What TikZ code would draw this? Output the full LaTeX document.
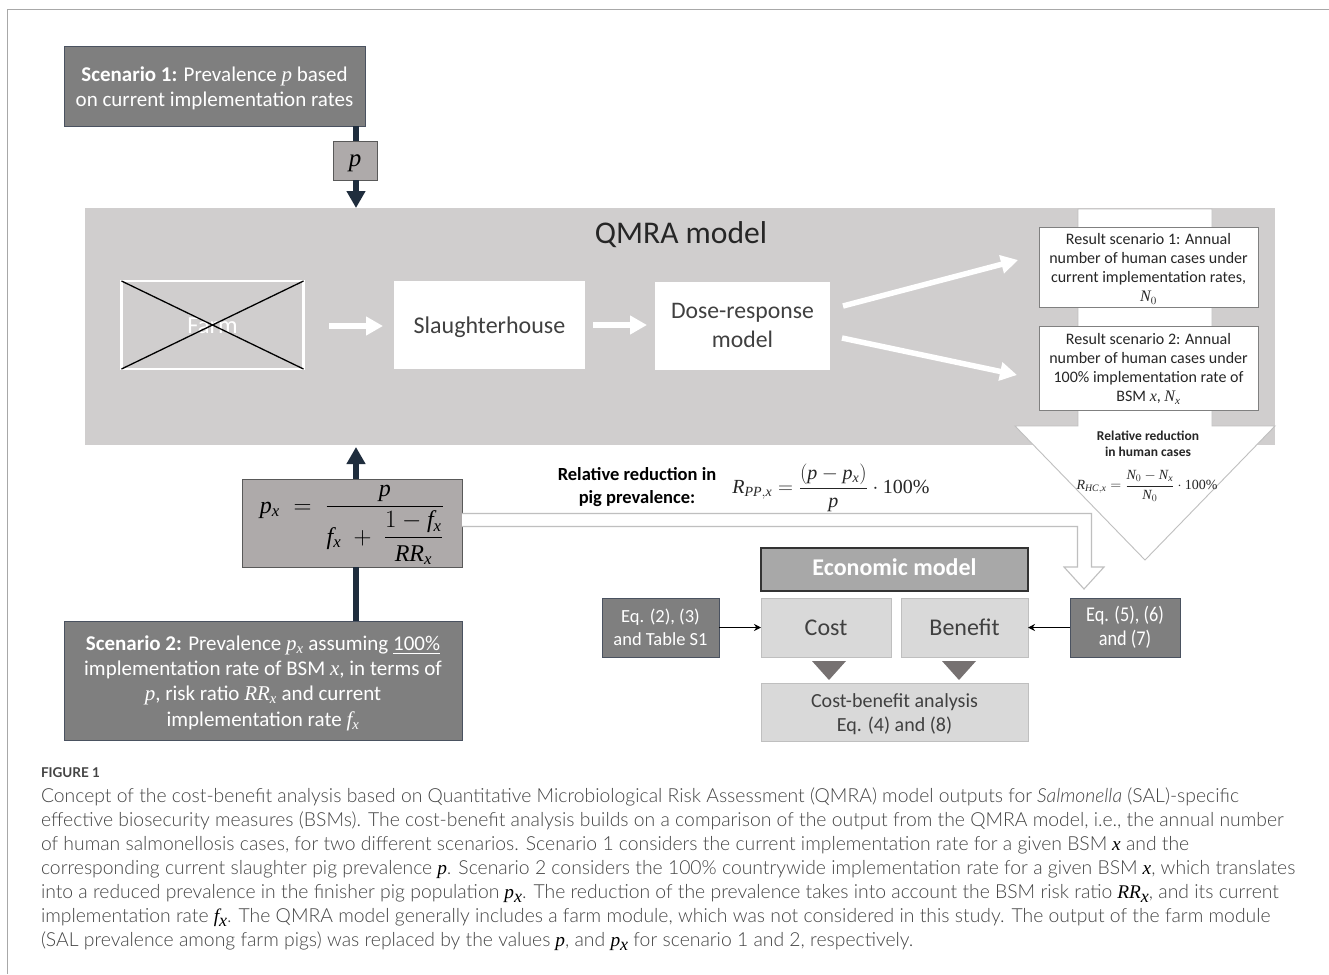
\documentclass[tikz,border=0pt]{standalone}
\usepackage{amsmath}
\usepackage{graphicx}
\usepackage{fontspec}
\setmainfont{Carlito}
\newfontfamily\capfont{Lato Light}
\newfontfamily\capbold{Lato}
\newfontfamily\capmath[NFSSFamily=mlib]{Liberation Serif}
\DeclareSymbolFont{mliit}{TU}{mlib}{m}{it}
\DeclareSymbolFont{mlirm}{TU}{mlib}{m}{n}
\DeclareMathSymbol{p}{\mathalpha}{mliit}{`p}
\DeclareMathSymbol{x}{\mathalpha}{mliit}{`x}
\DeclareMathSymbol{f}{\mathalpha}{mliit}{`f}
\DeclareMathSymbol{R}{\mathalpha}{mliit}{`R}
\DeclareMathSymbol{N}{\mathalpha}{mliit}{`N}
\DeclareMathSymbol{P}{\mathalpha}{mliit}{`P}
\DeclareMathSymbol{H}{\mathalpha}{mliit}{`H}
\DeclareMathSymbol{C}{\mathalpha}{mliit}{`C}
\DeclareMathSymbol{0}{\mathalpha}{mlirm}{`0}
\DeclareMathSymbol{1}{\mathalpha}{mlirm}{`1}
\usetikzlibrary{arrows.meta}
\definecolor{darkbox}{HTML}{7F7F7F}
\definecolor{boxline}{HTML}{4A5260}
\definecolor{midbox}{HTML}{AEAAAA}
\definecolor{qmra}{HTML}{D0CECE}
\definecolor{navy}{HTML}{1F2D3D}
\definecolor{lightbox}{HTML}{D9D9D9}
\definecolor{tri}{HTML}{767171}
\definecolor{captxt}{HTML}{444444}
\definecolor{frameline}{HTML}{A8A8A8}
\newcommand{\capv}[2]{{\color{black}\capmath\itshape #1\ifx&#2&\else\raisebox{-4pt}{\fontsize{18}{18}\selectfont #2}\fi}}
\newcommand{\dn}[2]{\raisebox{-#1pt}[\height][\depth]{#2}}
\tikzset{
  x=1pt,y=-1pt,
  basebox/.style={inner sep=0pt,outer sep=0pt,align=center,anchor=center},
  darknode/.style={basebox,fill=darkbox,draw=boxline,line width=.9pt,text=white},
  midnode/.style={basebox,fill=midbox,draw=black!65,line width=.8pt,text=black},
  whitenode/.style={basebox,fill=white,text=black!75},
  resnode/.style={basebox,fill=white,draw=black!50,line width=.9pt,text=black!85},
  lightnode/.style={basebox,fill=lightbox,draw=black!25,line width=.9pt,text=black!75},
  navyarrow/.style={draw=navy,line width=6pt,-{Triangle[length=17pt,width=18pt]}},
  navyline/.style={draw=navy,line width=6pt},
  whitearrow/.style={draw=white,line width=5.5pt,-{Triangle[length=17pt,width=18pt]}},
  thinarrow/.style={draw=black,line width=1pt,-{Stealth[length=7pt,width=7pt]}},
  capline/.style={anchor=base west,inner sep=0pt,outer sep=0pt,text=captxt,font=\capfont\fontsize{19.35}{20}\selectfont},
  hollow/.style={draw=black!25,line width=.9pt,fill=white},
}
\begin{document}
\begin{tikzpicture}
\useasboundingbox (0,0) rectangle (1329,974);
\fill[white] (0,0) rectangle (1329,974);
\draw[frameline,line width=1pt] (7.5,974) -- (7.5,9.5) -- (1329,9.5);

% QMRA block
\node[basebox,fill=qmra,minimum width=1190pt,minimum height=237pt] (qmra) at (680,326.5) {};
\node[font=\fontsize{31.6}{33}\selectfont,text=black!85,inner sep=0pt] (qmratitle) at (681,235) {QMRA model};

% big outlined arrow
\draw[hollow] (1078,209) -- (1212,209) -- (1212,426) -- (1275,426) -- (1145,560) -- (1015,426) -- (1078,426) -- cycle;

% scenario boxes
\node[darknode,minimum width=301pt,minimum height=80pt,font=\fontsize{21}{25.5}\selectfont] (sc1) at (214.5,86) {\dn{2.5}{\parbox{290pt}{\centering\textbf{Scenario 1:} Prevalence $p$ based\\on current implementation rates}}};
\node[midnode,minimum width=44pt,minimum height=39pt,font=\fontsize{25}{28}\selectfont] (pbox) at (355,160.5) {\dn{3}{$p$}};
\node[darknode,minimum width=398pt,minimum height=119pt,font=\fontsize{21}{25.3}\selectfont] (sc2) at (263,680.5) {\dn{2.5}{\parbox{390pt}{\centering\textbf{Scenario 2:} Prevalence $p_x$ assuming \underline{100\%}\\implementation rate of BSM $x$, in terms of\\$p$, risk ratio $RR_x$ and current\\implementation rate $f_x$}}};
\node[midnode,minimum width=220pt,minimum height=88pt,font=\fontsize{24}{26}\selectfont] (pxbox) at (352,523) {\dn{2}{$p_x\;=\;\dfrac{p}{f_x\;+\;\dfrac{1-f_x}{RR_x}}$}};

\coordinate (ax) at (356,0);
\draw[navyline] (sc1.south -| ax) -- (pbox.north -| ax);
\draw[navyarrow] (pbox.south -| ax) -- (qmra.north -| ax);
\draw[navyline] (sc2.north -| ax) -- (pxbox.south -| ax);
\coordinate (tipup) at (356,447);
\draw[navyarrow] (pxbox.north -| ax) -- (tipup);

% model chain
\node[basebox,draw=white,line width=2.2pt,minimum width=182pt,minimum height=88pt,text=white,font=\fontsize{24.5}{26}\selectfont] (farm) at (212.5,325) {\dn{1}{Farm}};
\draw[black,line width=1.3pt] (farm.north west) -- (farm.south east);
\draw[black,line width=1.3pt] (farm.south west) -- (farm.north east);
\node[whitenode,minimum width=191pt,minimum height=88pt,font=\fontsize{24}{26}\selectfont] (slaughter) at (489.5,325) {\dn{2}{Slaughterhouse}};
\node[whitenode,minimum width=175pt,minimum height=88pt,font=\fontsize{23.7}{28.5}\selectfont] (dose) at (742.5,325.5) {Dose-response\\model};
\node[resnode,minimum width=219pt,minimum height=80pt,font=\fontsize{16}{19}\selectfont] (res1) at (1148.5,267) {\dn{2}{\parbox{215pt}{\centering Result scenario 1: Annual\\number of human cases under\\current implementation rates,\\$N_0$}}};
\node[resnode,minimum width=219pt,minimum height=84pt,font=\fontsize{16}{19}\selectfont] (res2) at (1148.5,368) {\dn{1}{\parbox{215pt}{\centering Result scenario 2: Annual\\number of human cases under\\100\% implementation rate of\\BSM $x$, $N_x$}}};

\coordinate (a1s) at (329,326);
\coordinate (a1e) at (383,326);
\coordinate (a2s) at (593,325);
\coordinate (a2e) at (647,325);
\coordinate (a3s) at (843,306);
\coordinate (a3e) at (1018,260);
\coordinate (a4s) at (842,338);
\coordinate (a4e) at (1017,375);
\draw[whitearrow] (a1s) -- (a1e);
\draw[whitearrow] (a2s) -- (a2e);
\draw[whitearrow] (a3s) -- (a3e);
\draw[whitearrow] (a4s) -- (a4e);

% labels in the big arrow
\node[inner sep=0pt,align=center,font=\bfseries\fontsize{13.5}{16}\selectfont,text=black!85] (rhc) at (1148,444) {Relative reduction\\in human cases};
\node[inner sep=0pt,font=\fontsize{14}{16}\selectfont,text=black!85] (rhcf) at (1147,486) {$R_{HC,x}=\dfrac{N_0-N_x}{N_0}\cdot \text{\capmath 100\%}$};

% pig prevalence
\node[inner sep=0pt,align=center,font=\bfseries\fontsize{18.5}{23}\selectfont,text=black] (rpp) at (637,487.5) {Relative reduction in\\pig prevalence:};
\node[inner sep=0pt,font=\fontsize{20}{23}\selectfont,text=black!85] (rppf) at (831,488) {$R_{PP,x}=\dfrac{(p-p_x)}{p}\cdot \text{\capmath 100\%}$};

% economic model
\node[basebox,fill=black!34,draw=black!80,line width=1.1pt,minimum width=267pt,minimum height=43pt,text=white,font=\bfseries\fontsize{24}{26}\selectfont] (econ) at (894.5,569.5) {\raisebox{2pt}[\height][\depth]{Economic model}};
\node[lightnode,minimum width=130pt,minimum height=59pt,font=\fontsize{24}{26}\selectfont] (cost) at (826,627.5) {Cost};
\node[lightnode,minimum width=127pt,minimum height=59pt,font=\fontsize{24}{26}\selectfont] (benefit) at (964.5,627.5) {Benefit};
\node[lightnode,minimum width=267pt,minimum height=58pt,font=\fontsize{20}{24}\selectfont] (cba) at (894.5,712) {\dn{2}{\parbox{260pt}{\centering Cost-benefit analysis\\Eq. (4) and (8)}}};
\node[darknode,minimum width=117pt,minimum height=59pt,font=\fontsize{18.5}{23}\selectfont] (eql) at (660.5,627.5) {Eq. (2), (3)\\and Table S1};
\node[darknode,minimum width=110pt,minimum height=59pt,font=\fontsize{21}{24}\selectfont] (eqr) at (1125,627.5) {\scalebox{.87}[1]{\parbox{120pt}{\centering Eq. (5), (6)\\and (7)}}};
\draw[thinarrow] (eql) -- (cost);
\draw[thinarrow] (eqr) -- (benefit);
\fill[tri] (812,661) -- (846,661) -- (829,680) -- cycle;
\fill[tri] (942,661) -- (976,661) -- (959,680) -- cycle;

% hollow arrow
\coordinate (h1) at (462,513.5);
\coordinate (h2) at (462,526.5);
\draw[draw=black!25,line width=1.1pt,fill=white,join=miter] (pxbox.east |- h1) -- (1091.5,513.5) -- (1091.5,567) -- (1104,567) -- (1084,589) -- (1064,567) -- (1077.5,567) -- (1077.5,526.5) -- (pxbox.east |- h2);

% caption
\node[capline,font=\capbold\bfseries\fontsize{13.5}{15}\selectfont] (figlab) at (41,777) {FIGURE 1};
\node[capline] (c1) at (41,802) {Concept of the cost-benefit analysis based on Quantitative Microbiological Risk Assessment (QMRA) model outputs for \textit{Salmonella} (SAL)-specific};
\node[capline] (c2) at (41,826) {effective biosecurity measures (BSMs). The cost-benefit analysis builds on a comparison of the output from the QMRA model, i.e., the annual number};
\node[capline] (c3) at (41,850) {of human salmonellosis cases, for two different scenarios. Scenario 1 considers the current implementation rate for a given BSM \capv{x}{} and the};
\node[capline] (c4) at (41,874) {corresponding current slaughter pig prevalence \capv{p}{}. Scenario 2 considers the 100\% countrywide implementation rate for a given BSM \capv{x}{}, which translates};
\node[capline] (c5) at (41,898) {into a reduced prevalence in the finisher pig population \capv{p}{x}. The reduction of the prevalence takes into account the BSM risk ratio \capv{RR}{x}, and its current};
\node[capline] (c6) at (41,922) {implementation rate \capv{f}{x}. The QMRA model generally includes a farm module, which was not considered in this study. The output of the farm module};
\node[capline] (c7) at (41,946) {(SAL prevalence among farm pigs) was replaced by the values \capv{p}{}, and \capv{p}{x} for scenario 1 and 2, respectively.};
\end{tikzpicture}
\end{document}
